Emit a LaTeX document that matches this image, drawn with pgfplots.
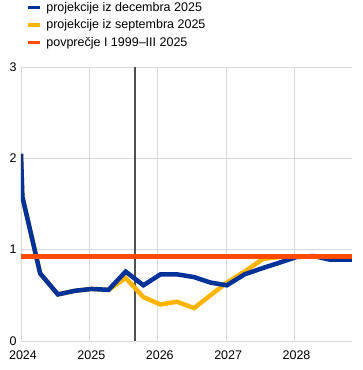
\documentclass[border=0pt]{standalone}
\usepackage{pgfplots}
\pgfplotsset{compat=1.18}
\usepackage{fontspec}
\setmainfont{Liberation Sans}
\definecolor{ecbblue}{HTML}{003299}
\definecolor{ecbyellow}{HTML}{FFB400}
\definecolor{ecbred}{HTML}{FF4B00}
\definecolor{gridgray}{HTML}{D9D9D9}
\definecolor{vgray}{HTML}{505050}
\begin{document}
\begin{tikzpicture}[x=1pt,y=1pt]
\useasboundingbox (-21,-29) rectangle (341,341);
\begin{axis}[
  at={(0,0)}, anchor=south west,
  scale only axis, width=331pt, height=274pt,
  xmin=2024, xmax=2028.84, ymin=0, ymax=3,
  xtick={2024,2025,2026,2027,2028},
  xticklabels={2024,2025,2026,2027,2028},
  ytick={0,1,2,3},
  yticklabels={0,1,2,3},
  grid=major,
  major grid style={draw=gridgray, line width=0.9pt},
  axis line style={draw=none},
  tick style={draw=none},
  ticklabel style={font=\fontsize{12.5}{15}\selectfont, text=black},
  xticklabel style={yshift=-6pt, xshift=2pt},
  yticklabel style={xshift=-1pt},
  legend style={at={(0.005,1.252)}, anchor=north west, draw=none, fill=none,
    font=\fontsize{12.5}{15}\selectfont, row sep=3pt,
    /tikz/every odd column/.append style={column sep=3pt}},
  legend cell align=left,
  legend image code/.code={\draw[#1, line width=3.5pt, line cap=butt] (0pt,0pt) -- (12pt,0pt);},
]
\addlegendimage{ecbblue}
\addlegendentry{projekcije iz decembra 2025}
\addlegendimage{ecbyellow}
\addlegendentry{projekcije iz septembra 2025}
\addlegendimage{ecbred}
\addlegendentry{povprečje I 1999--III 2025}

\addplot[forget plot, vgray, line width=1.6pt] coordinates {(2025.67,0) (2025.67,3)};

\addplot[forget plot, ecbyellow, line width=4.5pt, line join=miter] coordinates {
(2024.00,2.05) (2024.02,1.58) (2024.28,0.74) (2024.54,0.51) (2024.79,0.55)
(2025.03,0.57) (2025.28,0.56) (2025.53,0.69) (2025.79,0.48) (2026.04,0.40)
(2026.28,0.43) (2026.53,0.36) (2026.77,0.50) (2027.01,0.64) (2027.27,0.76)
(2027.54,0.90) (2027.79,0.92) (2028.03,0.93)
};

\addplot[forget plot, ecbblue, line width=4.5pt, line join=miter] coordinates {
(2024.00,2.05) (2024.02,1.58) (2024.28,0.74) (2024.54,0.51) (2024.79,0.55)
(2025.03,0.57) (2025.28,0.56) (2025.53,0.76) (2025.79,0.61) (2026.04,0.73)
(2026.28,0.73) (2026.53,0.70) (2026.77,0.64) (2027.01,0.61) (2027.27,0.73)
(2027.54,0.80) (2027.79,0.86) (2028.03,0.92) (2028.28,0.93) (2028.52,0.89)
(2028.84,0.89)
};

\addplot[forget plot, ecbred, line width=5pt] coordinates {(2024,0.92) (2028.84,0.92)};
\end{axis}
\end{tikzpicture}
\end{document}
